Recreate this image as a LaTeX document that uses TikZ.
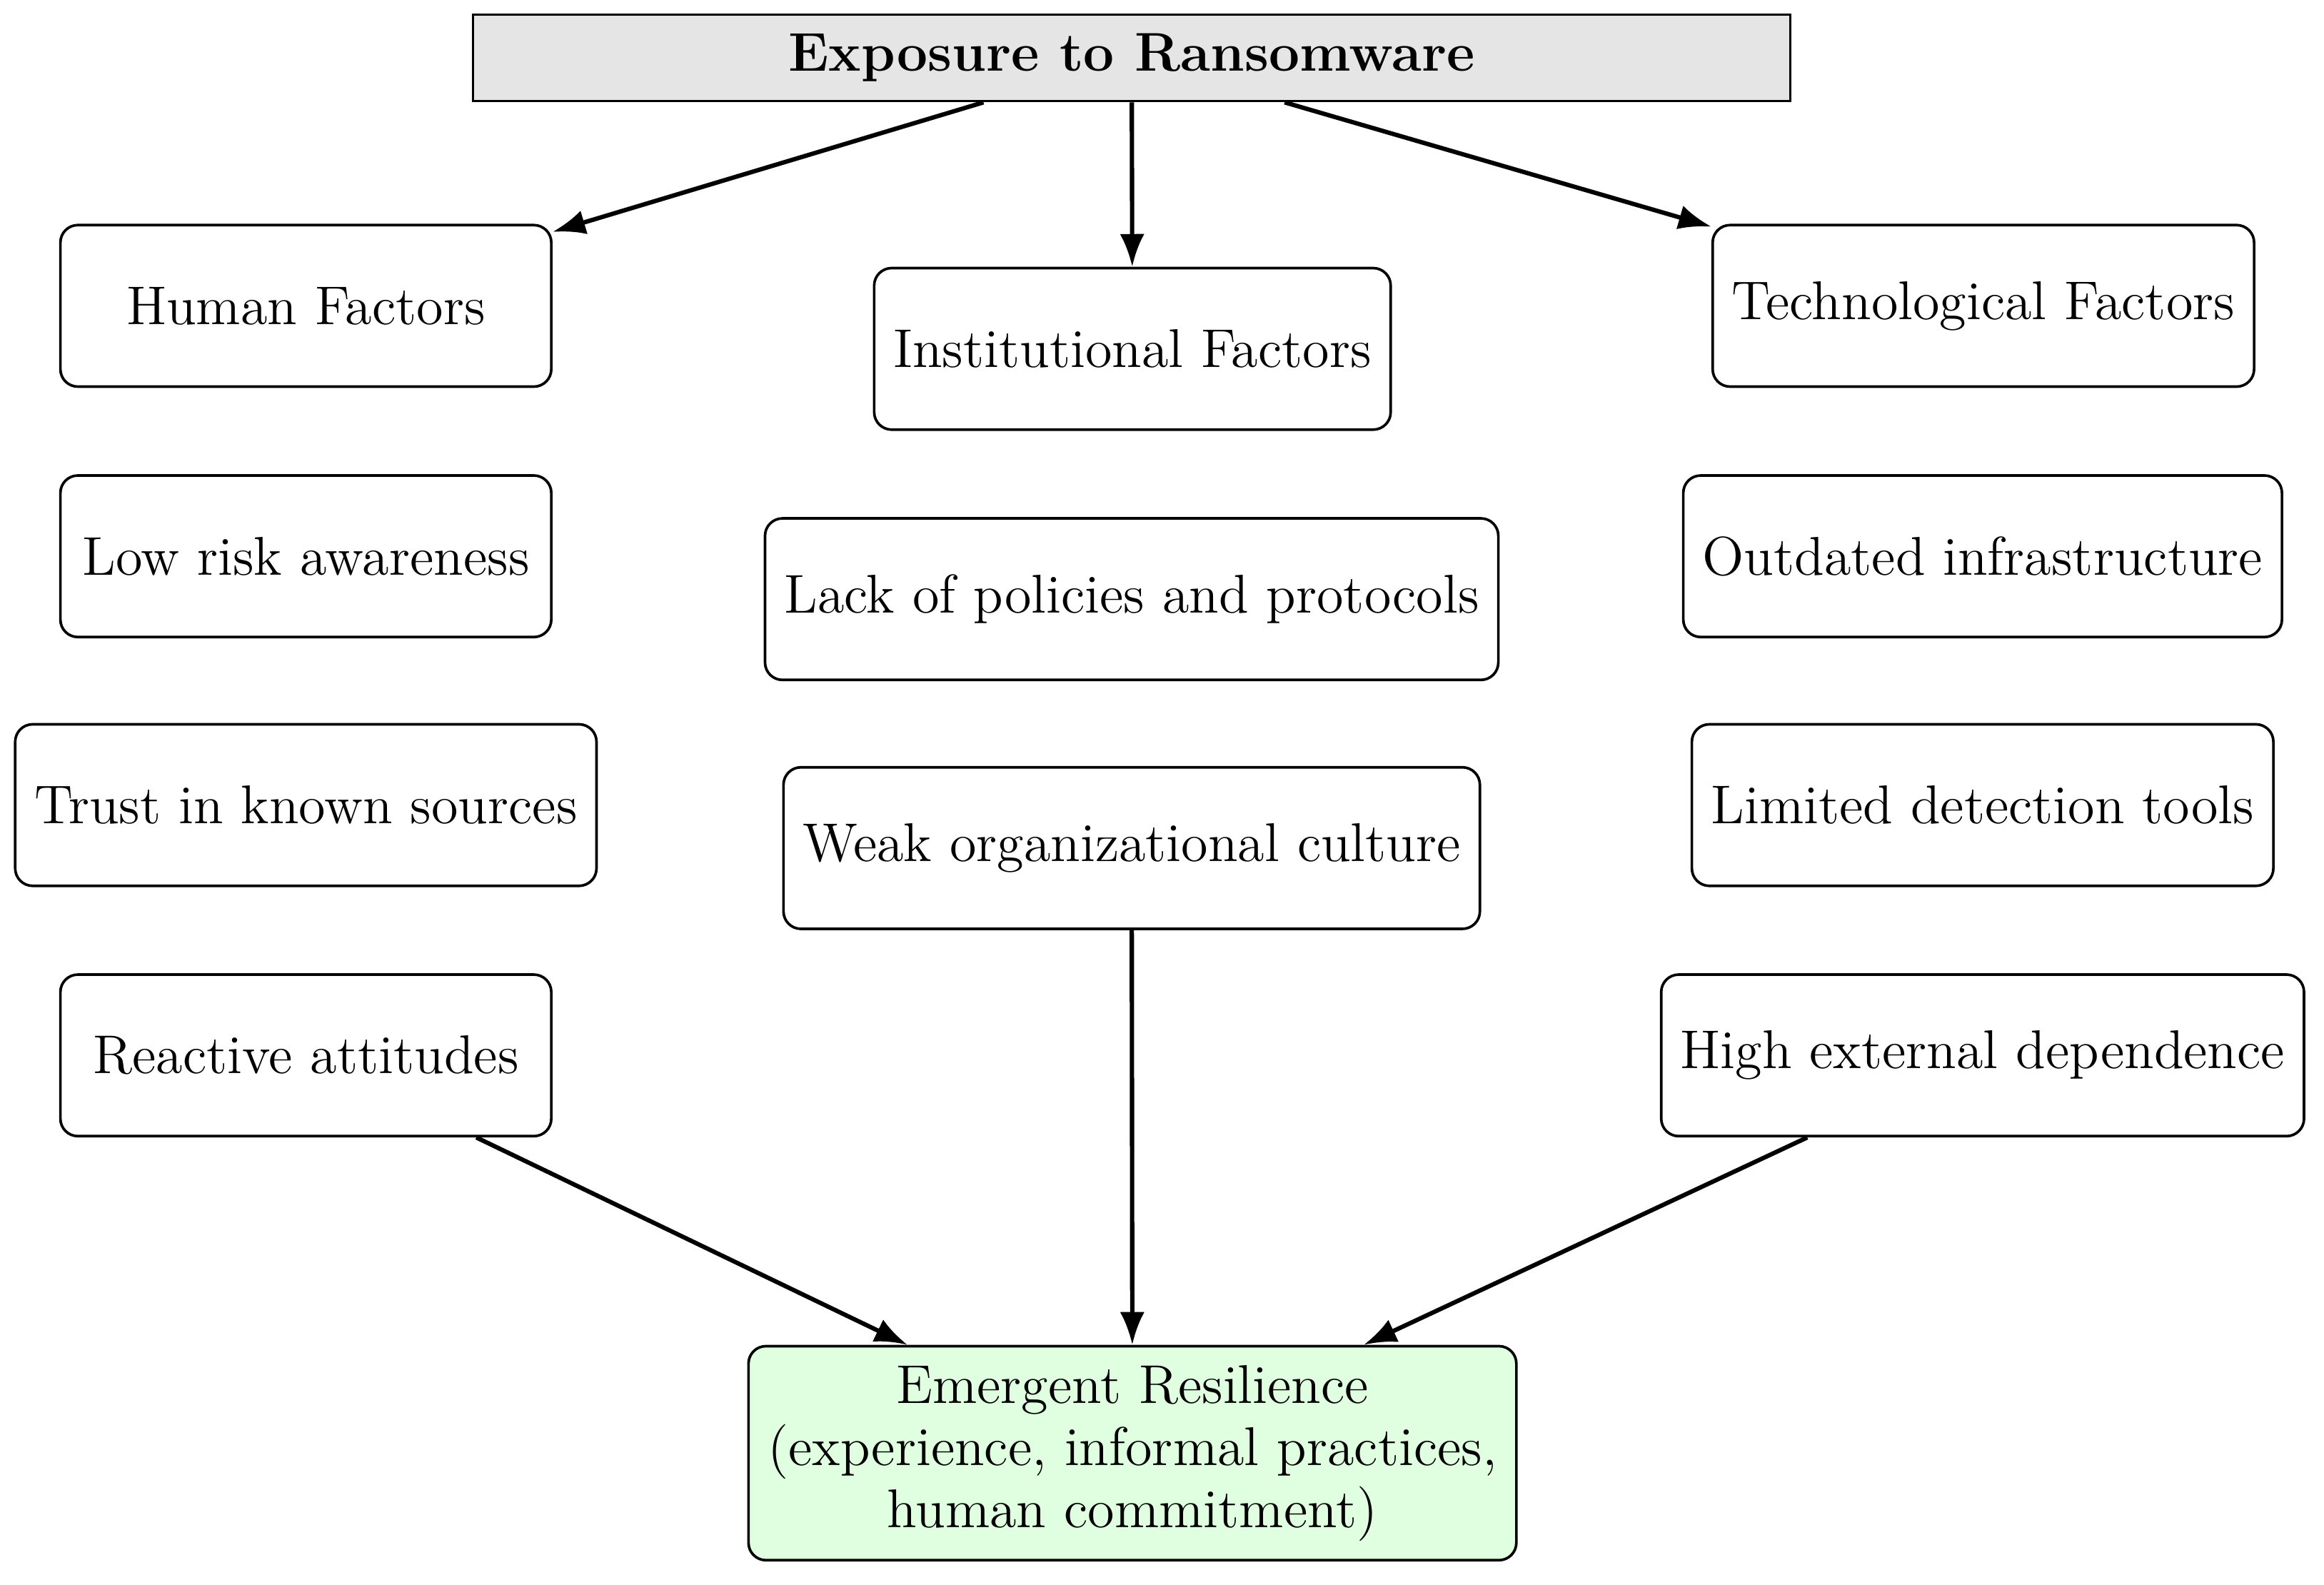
\documentclass[tikz,border=0pt]{standalone}
\usetikzlibrary{arrows.meta}
\begin{document}
\begin{tikzpicture}[
  box/.style={draw, semithick, rounded corners=4pt, font=\fontsize{12.5}{14.2}\selectfont, inner sep=4.4pt, minimum width=3.95cm, minimum height=1.3cm, align=center},
  topbox/.style={draw, semithick, fill=gray!20, font=\fontsize{12.5}{14.2}\selectfont\bfseries, inner sep=4.4pt, minimum width=10.6cm},
  resbox/.style={draw, semithick, rounded corners=4pt, fill=green!12, font=\fontsize{12.5}{14.2}\selectfont, inner sep=4.4pt, align=center, minimum width=6.17cm},
  arr/.style={-{Latex}, line width=1pt}
]
\useasboundingbox (0,0) rectangle (18.70,-12.75);
\node[topbox] (top) at (9.106,-0.465) {Exposure to Ransomware};
\node[box] (hum) at (2.461,-2.461) {Human Factors};
\node[box] (inst) at (9.112,-2.807) {Institutional Factors};
\node[box] (tech) at (15.959,-2.461) {Technological Factors};
\node[box] (low) at (2.461,-4.476) {Low risk awareness};
\node[box] (lack) at (9.106,-4.821) {Lack of policies and protocols};
\node[box] (outd) at (15.953,-4.476) {Outdated infrastructure};
\node[box] (trust) at (2.461,-6.478) {Trust in known sources};
\node[box] (weak) at (9.106,-6.824) {Weak organizational culture};
\node[box] (lim) at (15.953,-6.478) {Limited detection tools};
\node[box] (react) at (2.461,-8.492) {Reactive attitudes};
\node[box] (high) at (15.953,-8.492) {High external dependence};
\node[resbox] (res) at (9.112,-11.693) {Emergent Resilience\\(experience, informal practices,\\human commitment)};
\draw[arr] (top) -- (hum);
\draw[arr] (top) -- (inst);
\draw[arr] (top) -- (tech);
\draw[arr] (react) -- (res);
\draw[arr] (weak) -- (res);
\draw[arr] (high) -- (res);
\end{tikzpicture}
\end{document}
